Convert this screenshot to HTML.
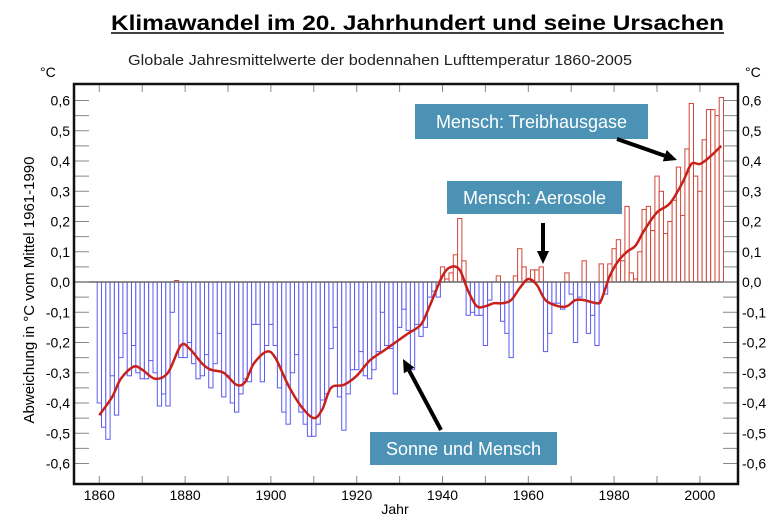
<!DOCTYPE html>
<html><head><meta charset="utf-8"><style>
body{margin:0;background:#fff;}
svg{display:block;font-family:"Liberation Sans",sans-serif;}
</style></head><body>
<svg id="s" width="782" height="522" xmlns="http://www.w3.org/2000/svg">
<text x="111" y="30" font-size="21" font-weight="bold" textLength="613" lengthAdjust="spacingAndGlyphs">Klimawandel im 20. Jahrhundert und seine Ursachen</text>
<line x1="111" y1="33" x2="724" y2="33" stroke="#000" stroke-width="1.6"/>
<text x="128" y="65" font-size="14.5" fill="#222" textLength="504" lengthAdjust="spacingAndGlyphs">Globale Jahresmittelwerte der bodennahen Lufttemperatur 1860-2005</text>
<text x="40" y="77" font-size="14">°C</text>
<text x="745" y="77" font-size="14">°C</text>
<text transform="translate(34,290) rotate(-90)" text-anchor="middle" font-size="15">Abweichung in °C vom Mittel 1961-1990</text>
<text x="395" y="514" text-anchor="middle" font-size="14">Jahr</text>
<g id="g"></g>
</svg>
<script>
var g=document.getElementById('g'),h='';
var L=74,R=738,T=84,B=484,Z=282,U=302.5;
function X(y){return 99.3+(y-1860)*4.29;}
function Y(v){return Z-v*U;}
var d=[-0.40,-0.48,-0.52,-0.31,-0.44,-0.25,-0.17,-0.31,-0.21,-0.30,-0.32,-0.32,-0.26,-0.30,-0.41,-0.37,-0.41,-0.10,0.005,-0.25,-0.25,-0.20,-0.27,-0.32,-0.31,-0.24,-0.35,-0.27,-0.17,-0.38,-0.31,-0.40,-0.43,-0.37,-0.32,-0.33,-0.14,-0.14,-0.33,-0.21,-0.14,-0.21,-0.35,-0.43,-0.47,-0.30,-0.24,-0.43,-0.47,-0.51,-0.51,-0.47,-0.39,-0.37,-0.22,-0.15,-0.38,-0.49,-0.37,-0.29,-0.29,-0.23,-0.31,-0.32,-0.29,-0.23,-0.10,-0.21,-0.22,-0.37,-0.15,-0.09,-0.16,-0.29,-0.14,-0.18,-0.15,-0.05,-0.03,-0.05,0.05,0.01,0.03,0.09,0.21,0.07,-0.11,-0.10,-0.11,-0.11,-0.21,-0.06,0.00,0.02,-0.13,-0.17,-0.25,0.02,0.11,0.05,0.00,0.04,0.04,0.05,-0.23,-0.17,-0.07,-0.07,-0.09,0.03,-0.04,-0.20,-0.05,0.07,-0.17,-0.11,-0.21,0.06,-0.04,0.06,0.11,0.14,0.07,0.25,0.03,0.01,0.10,0.24,0.25,0.17,0.35,0.30,0.16,0.20,0.27,0.38,0.22,0.44,0.59,0.35,0.30,0.47,0.57,0.57,0.55,0.61];
for(var i=0;i<d.length;i++){var v=d[i],x=X(1860+i)-2.1,y=Y(v);
 var c=v>=0?'#d0463a':'#5b5bf0';
 h+='<rect x="'+x.toFixed(1)+'" y="'+Math.min(y,Z).toFixed(1)+'" width="4.29" height="'+Math.abs(y-Z).toFixed(1)+'" fill="#fff" stroke="'+c+'" stroke-width="1"/>';}
h+='<line x1="'+L+'" y1="'+Z+'" x2="'+R+'" y2="'+Z+'" stroke="#666" stroke-width="1.5"/>';
var k=[[1860,-0.44],[1863,-0.38],[1865,-0.32],[1868,-0.28],[1870,-0.29],[1873,-0.32],[1876,-0.30],[1879,-0.21],[1881,-0.22],[1884,-0.27],[1886,-0.29],[1889,-0.30],[1892,-0.34],[1894,-0.33],[1896,-0.27],[1899,-0.23],[1901,-0.25],[1904,-0.34],[1907,-0.41],[1910,-0.45],[1912,-0.42],[1914,-0.35],[1917,-0.34],[1920,-0.31],[1923,-0.26],[1926,-0.23],[1929,-0.20],[1932,-0.17],[1935,-0.14],[1937,-0.08],[1940,0.02],[1942,0.05],[1944,0.04],[1946,-0.03],[1948,-0.08],[1950,-0.08],[1952,-0.07],[1954,-0.07],[1956,-0.06],[1958,-0.02],[1960,0.01],[1962,-0.01],[1964,-0.06],[1967,-0.08],[1969,-0.08],[1971,-0.06],[1973,-0.06],[1976,-0.07],[1977,-0.06],[1979,0.02],[1981,0.07],[1983,0.10],[1985,0.12],[1987,0.17],[1990,0.23],[1993,0.26],[1996,0.33],[1998,0.39],[2000,0.39],[2002,0.41],[2005,0.45]];
var p=k.map(function(a){return [X(a[0]),Y(a[1])];});
var s='M'+p[0][0].toFixed(1)+' '+p[0][1].toFixed(1);
for(var i=0;i<p.length-1;i++){var p0=p[Math.max(i-1,0)],p1=p[i],p2=p[i+1],p3=p[Math.min(i+2,p.length-1)];
 s+=' C'+(p1[0]+(p2[0]-p0[0])/6).toFixed(1)+' '+(p1[1]+(p2[1]-p0[1])/6).toFixed(1)+' '+(p2[0]-(p3[0]-p1[0])/6).toFixed(1)+' '+(p2[1]-(p3[1]-p1[1])/6).toFixed(1)+' '+p2[0].toFixed(1)+' '+p2[1].toFixed(1);}
h+='<path d="'+s+'" fill="none" stroke="#c8201a" stroke-width="2.5"/>';
for(var j=-12;j<=12;j++){var v=j/20,y=Y(v);
 h+='<line x1="'+L+'" y1="'+y+'" x2="'+(L+15)+'" y2="'+y+'" stroke="#888" stroke-width="1"/>';
 h+='<line x1="'+(R-15)+'" y1="'+y+'" x2="'+R+'" y2="'+y+'" stroke="#888" stroke-width="1"/>';
 if(j%2==0){var t=(v).toFixed(1).replace('.',',');if(j==0)t='0,0';
  h+='<text x="70" y="'+(y+5)+'" text-anchor="end" font-size="14">'+t+'</text>';
  h+='<text x="742" y="'+(y+5)+'" font-size="14">'+t+'</text>';}}
for(var yr=1860;yr<=2000;yr+=10){var x=X(yr);
 h+='<line x1="'+x+'" y1="'+T+'" x2="'+x+'" y2="'+(T+8)+'" stroke="#888"/>';
 h+='<line x1="'+x+'" y1="'+(B-8)+'" x2="'+x+'" y2="'+B+'" stroke="#888"/>';
 if(yr%20==0)h+='<text x="'+x+'" y="500" text-anchor="middle" font-size="14">'+yr+'</text>';}
h+='<rect x="'+L+'" y="'+T+'" width="'+(R-L)+'" height="'+(B-T)+'" fill="none" stroke="#111" stroke-width="2.5"/>';
function box(x,y,w,hh,t){return '<rect x="'+x+'" y="'+y+'" width="'+w+'" height="'+hh+'" fill="#4b92b5"/><text x="'+(x+w/2)+'" y="'+(y+hh/2+6.5)+'" text-anchor="middle" font-size="18" fill="#fff">'+t+'</text>';}
h+=box(415,104,233,35,'Mensch: Treibhausgase');
h+=box(447,181,175,33,'Mensch: Aerosole');
h+=box(370,432,187,33,'Sonne und Mensch');
function arr(x1,y1,x2,y2){var a=Math.atan2(y2-y1,x2-x1),l=13,w=6;
 var bx=x2-l*Math.cos(a),by=y2-l*Math.sin(a);
 return '<line x1="'+x1+'" y1="'+y1+'" x2="'+bx+'" y2="'+by+'" stroke="#000" stroke-width="4"/><polygon points="'+x2+','+y2+' '+(bx+w*Math.sin(a))+','+(by-w*Math.cos(a))+' '+(bx-w*Math.sin(a))+','+(by+w*Math.cos(a))+'" fill="#000"/>';}
h+=arr(617,139,677,160);
h+=arr(543,223,543,264);
h+=arr(441,430,403,359);
g.innerHTML=h;
</script>
</body></html>
